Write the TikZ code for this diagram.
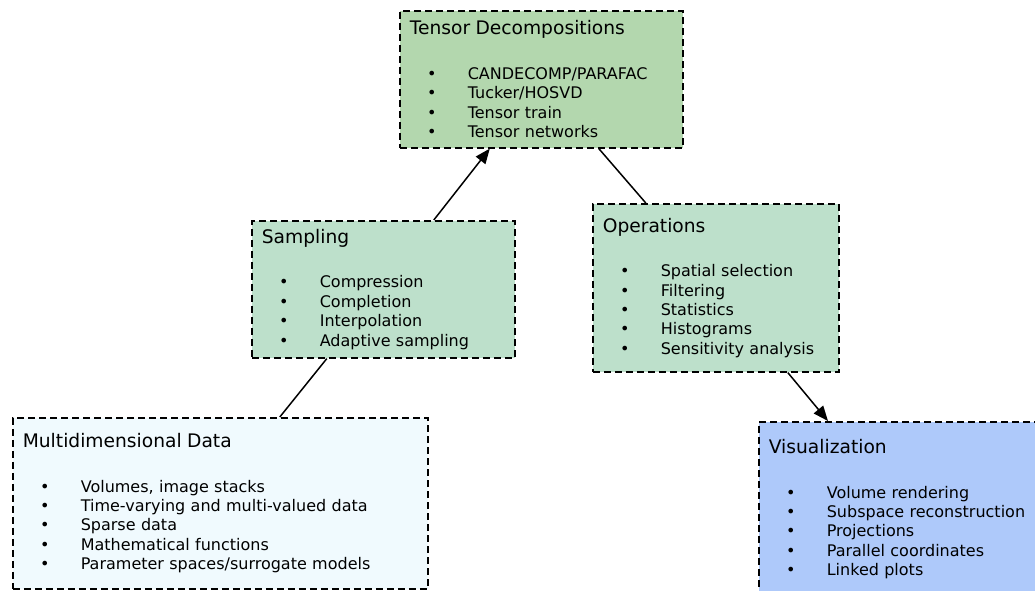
\documentclass[tikz,border=0pt]{standalone}
\usepackage{fontspec}
\setmainfont{DejaVu Sans}
\usetikzlibrary{arrows.meta}

\definecolor{tdfill}{HTML}{B3D7AE}
\definecolor{opfill}{HTML}{BDE0CB}
\definecolor{mdfill}{HTML}{F0FAFE}
\definecolor{visfill}{HTML}{AEC9FA}

% one bulleted entry: bullet indented, text on a fixed tab
\newcommand{\bitem}[1]{\hspace*{17.3pt}\makebox[40.7pt][l]{•}#1}
\newcommand{\btitle}[1]{{\fontsize{18.67}{19.4}\selectfont #1}}

\tikzset{
  stagebox/.style={draw=black, line width=1.6pt, dash pattern=on 7pt off 4pt,
    rectangle, inner xsep=10pt, inner ysep=0pt, align=left, anchor=north west,
    font=\fontsize{16}{19.4}\selectfont},
  link/.style={draw=black, line width=1.5pt},
  flow/.style={link, -{Triangle[length=15pt,width=12pt]}}
}

\begin{document}
\begin{tikzpicture}[x=1pt, y=-1pt]
\useasboundingbox (0,0) rectangle (1035,590);

\node[stagebox, fill=tdfill, text width=263pt, minimum height=137pt] (tensor) at (399,10)
  {\btitle{Tensor Decompositions}\\[25pt]
   \bitem{CANDECOMP/PARAFAC}\\
   \bitem{Tucker/HOSVD}\\
   \bitem{Tensor train}\\
   \bitem{Tensor networks}};

\node[stagebox, fill=opfill, text width=243pt, minimum height=137pt] (samp) at (251,220)
  {\btitle{Sampling}\\[25pt]
   \bitem{Compression}\\
   \bitem{Completion}\\
   \bitem{Interpolation}\\
   \bitem{Adaptive sampling}};

\node[stagebox, fill=opfill, text width=226pt, minimum height=168pt] (ops) at (592,203)
  {\btitle{Operations}\\[25pt]
   \bitem{Spatial selection}\\
   \bitem{Filtering}\\
   \bitem{Statistics}\\
   \bitem{Histograms}\\
   \bitem{Sensitivity analysis}};

\node[stagebox, fill=mdfill, text width=395pt, minimum height=171pt] (data) at (12,417)
  {\btitle{Multidimensional Data}\\[25pt]
   \bitem{Volumes, image stacks}\\
   \bitem{Time-varying and multi-valued data}\\
   \bitem{Sparse data}\\
   \bitem{Mathematical functions}\\
   \bitem{Parameter spaces/surrogate models}};

\node[stagebox, fill=visfill, text width=270pt, minimum height=175pt] (vis) at (758,421)
  {\btitle{Visualization}\\[25pt]
   \bitem{Volume rendering}\\
   \bitem{Subspace reconstruction}\\
   \bitem{Projections}\\
   \bitem{Parallel coordinates}\\
   \bitem{Linked plots}};

% connectors between the stages
\draw[link] ([xshift=59.5pt]data.north) -- ([xshift=-56.5pt]samp.south);
\draw[flow] ([xshift=50.5pt]samp.north) -- ([xshift=-51.5pt]tensor.south);
\draw[link] ([xshift=57.5pt]tensor.south) -- ([xshift=-70pt]ops.north);
\draw[flow] ([xshift=72pt]ops.south) -- ([xshift=70pt]vis.north west);
\end{tikzpicture}
\end{document}
